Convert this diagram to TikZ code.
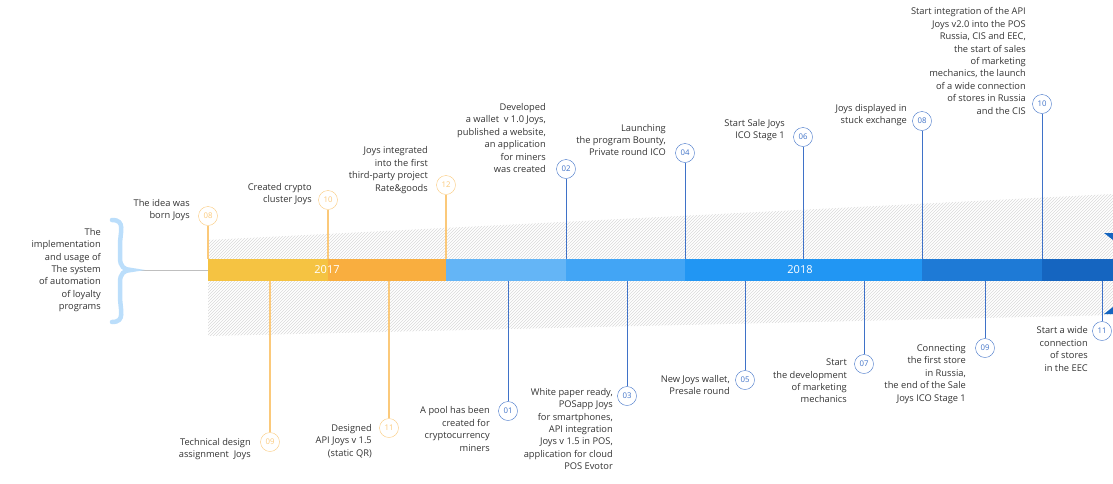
\documentclass[tikz,border=0pt]{standalone}
\usepackage{fontspec}
\setmainfont{Open Sans}
\usetikzlibrary{patterns}
\definecolor{cy}{HTML}{F5C342}\definecolor{co}{HTML}{F9AE3F}
\definecolor{b1}{HTML}{64B5F6}\definecolor{b2}{HTML}{42A5F5}
\definecolor{b3}{HTML}{2196F3}\definecolor{b4}{HTML}{1E7AD6}
\definecolor{b5}{HTML}{1565C0}\definecolor{lo}{HTML}{FBC97A}
\definecolor{lb}{HTML}{3F72C8}\definecolor{txt}{HTML}{333333}
\definecolor{brc}{HTML}{BBDEFB}
\tikzset{
 lbl/.style={font=\fontsize{9.3}{12.4}\selectfont, text=txt, align=right, anchor=east, inner sep=0},
 dot/.style={circle, draw, fill=white, minimum size=19pt, inner sep=0, font=\fontsize{7.8}{9}\selectfont},
 od/.style={dot, draw=lo, text=lo}, bd/.style={dot, draw=lb, text=lb},
 ol/.style={draw=lo, line width=1.2pt}, bl/.style={draw=lb, line width=1pt}
}
\begin{document}
\begin{tikzpicture}[x=1pt,y=-1pt]
\useasboundingbox (0,0) rectangle (1113,483);
\fill[pattern=north east lines, pattern color=gray!30] (208,259) -- (208,240) -- (1113,194) -- (1113,259) -- cycle;
\fill[pattern=north east lines, pattern color=gray!30] (208,281) -- (1113,281) -- (1113,315) -- (208,336) -- cycle;
\draw[gray!50, line width=0.8pt] (128,270) -- (208,270);
\draw[brc, line width=4.5pt, line cap=round]
 (112,220) .. controls (126,220) and (120,232) .. (120,245) -- (120,258) .. controls (120,266) and (124,270) .. (131,270)
 .. controls (124,270) and (120,274) .. (120,282) -- (120,296) .. controls (120,310) and (126,322) .. (112,322);
\node[lbl] (left) at (101,270) {The\\implementation\\and usage of\\The system\\of automation\\of loyalty\\programs};
\fill[cy] (208,259) rectangle (328,281);
\fill[co] (328,259) rectangle (446,281);
\fill[b1] (446,259) rectangle (566,281);
\fill[b2] (566,259) rectangle (685,281);
\fill[b3] (685,259) rectangle (922,281);
\fill[b4] (922,259) rectangle (1042,281);
\fill[b5] (1042,259) rectangle (1113,281);
\node[text=white, font=\fontsize{11}{12}\selectfont] (y17) at (327,270) {2017};
\node[text=white, font=\fontsize{11}{12}\selectfont] (y18) at (800,270) {2018};
\fill[b5] (1104,233) -- (1113,233) -- (1113,240) -- cycle;
\fill[b5] (1104,314) -- (1113,307) -- (1113,314) -- cycle;
\foreach \n/\x in {a8/208,a10/328,a12/446,a2/566,a4/685,a6/803,a28/922,a210/1042}{\coordinate (\n) at (\x,259);}
\foreach \n/\x in {a9/270,a11/389,a1/508,a3/627,a5/745,a7/864,a29/985,a211/1102}{\coordinate (\n) at (\x,281);}
\node[od] (o8) at (208,216) {08}; \draw[ol] (o8) -- (a8);
\node[od] (o10) at (328,200) {10}; \draw[ol] (o10) -- (a10);
\node[od] (o12) at (446,185) {12}; \draw[ol] (o12) -- (a12);
\node[lbl] (t8) at (190,210) {The idea was\\born Joys};
\node[lbl] (t10) at (312,194) {Created crypto\\cluster Joys};
\node[lbl] (t12) at (428,170) {Joys integrated\\into the first\\third-party project\\Rate\&goods};
\node[od] (o9) at (270,442) {09}; \draw[ol] (a9) -- (o9);
\node[od] (o11) at (389,428) {11}; \draw[ol] (a11) -- (o11);
\node[lbl] (t9) at (251,449) {Technical design\\assignment\ \ Joys};
\node[lbl] (t11) at (372,441) {Designed\\API Joys v 1.5\\(static QR)};
\node[bd] (c2) at (566,169) {02}; \draw[bl] (c2) -- (a2);
\node[bd] (c4) at (685,153) {04}; \draw[bl] (c4) -- (a4);
\node[bd] (c6) at (803,137) {06}; \draw[bl] (c6) -- (a6);
\node[bd] (c8) at (922,121) {08}; \draw[bl] (c8) -- (a28);
\node[bd] (c10) at (1042,104) {10}; \draw[bl] (c10) -- (a210);
\node[lbl] (t2) at (546,138) {Developed\\a wallet\ \ v 1.0 Joys,\\published a website,\\an application\\for miners\\was created};
\node[lbl] (t4) at (666,140) {Launching\\the program Bounty,\\Private round ICO};
\node[lbl] (t6) at (785,130) {Start Sale Joys\\ICO Stage 1};
\node[lbl] (t8b) at (907,115) {Joys displayed in\\stuck exchange};
\node[lbl] (t10b) at (1026,61) {Start integration of the API\\Joys v2.0 into the POS\\Russia, CIS and EEC,\\the start of sales\\of marketing\\mechanics, the launch\\of a wide connection\\of stores in Russia\\and the CIS};
\node[bd] (c1) at (508,411) {01}; \draw[bl] (a1) -- (c1);
\node[bd] (c3) at (627,396) {03}; \draw[bl] (a3) -- (c3);
\node[bd] (c5) at (745,380) {05}; \draw[bl] (a5) -- (c5);
\node[bd] (c7) at (864,364) {07}; \draw[bl] (a7) -- (c7);
\node[bd] (c9) at (985,348) {09}; \draw[bl] (a29) -- (c9);
\node[bd] (c11) at (1102,331) {11}; \draw[bl] (a211) -- (c11);
\node[lbl] (t1) at (490,429) {A pool has been\\created for\\cryptocurrency\\miners};
\node[lbl] (t3) at (613,429) {White paper ready,\\POSapp Joys\\for smartphones,\\API integration\\Joys v 1.5 in POS,\\application for cloud\\POS Evotor};
\node[lbl] (t5) at (730,385) {New Joys wallet,\\Presale round};
\node[lbl] (t7) at (847,381) {Start\\the development\\of marketing\\mechanics};
\node[lbl] (t9b) at (966,374) {Connecting\\the first store\\in Russia,\\the end of the Sale\\Joys ICO Stage 1};
\node[lbl] (t11b) at (1088,349) {Start a wide\\connection\\of stores\\in the EEC};
\end{tikzpicture}
\end{document}
